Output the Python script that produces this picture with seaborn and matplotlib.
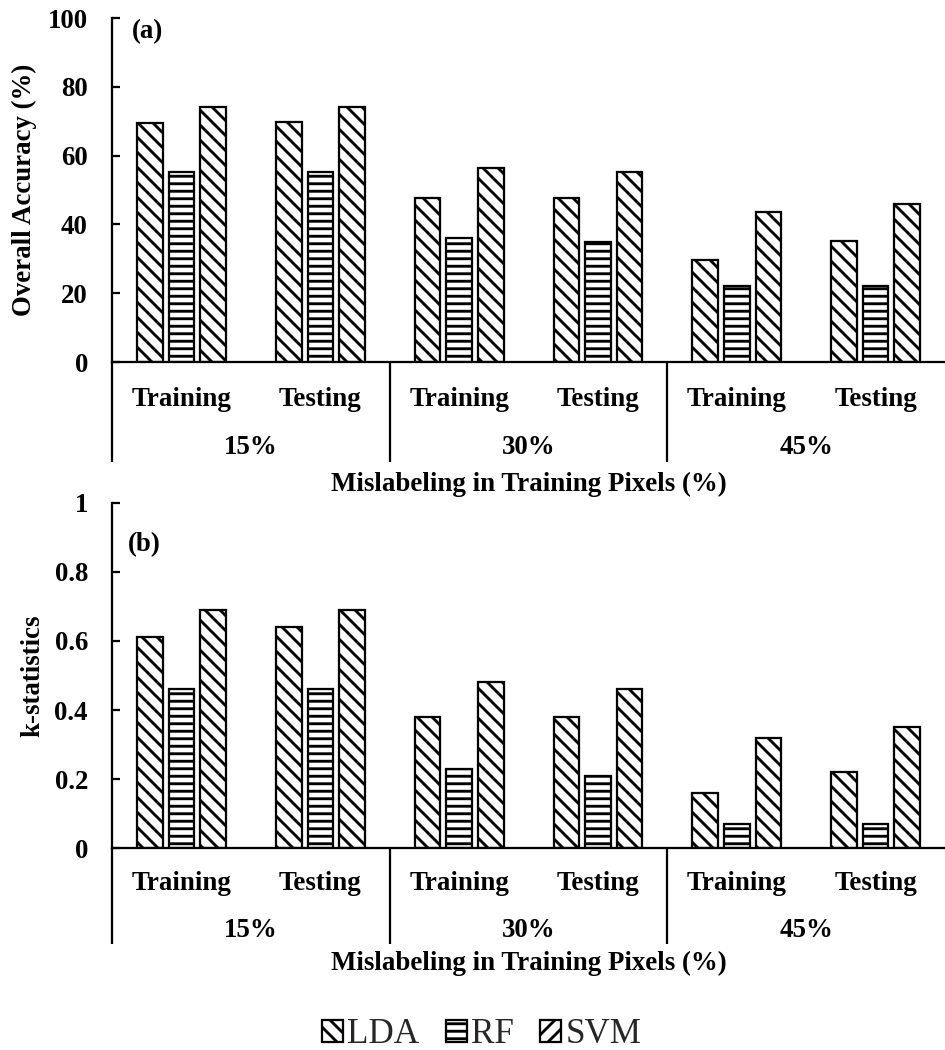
import pandas as pd
import seaborn as sns
import matplotlib.pyplot as plt
from matplotlib.patches import Patch
from matplotlib.lines import Line2D

sns.set_theme(style="white")
plt.rcParams["font.family"] = ["Liberation Serif", "DejaVu Serif"]
plt.rcParams["font.weight"] = "bold"
plt.rcParams["axes.labelweight"] = "bold"
plt.rcParams["hatch.linewidth"] = 2.3
plt.rcParams["hatch.color"] = "black"

# ---- data -------------------------------------------------------------
mislabel_levels = ["15%", "30%", "45%"]
phases = ["Training", "Testing"]
classifiers = ["LDA", "RF", "SVM"]

# order: 15% Training, 15% Testing, 30% Training, 30% Testing, 45% Training, 45% Testing
oa_lda = [69.4, 69.8, 47.8, 47.8, 29.7, 35.3]
oa_rf = [55.3, 55.3, 36.1, 34.8, 22.1, 22.1]
oa_svm = [74.0, 74.0, 56.3, 55.3, 43.6, 45.9]

kappa_lda = [0.61, 0.64, 0.38, 0.38, 0.16, 0.22]
kappa_rf = [0.46, 0.46, 0.23, 0.21, 0.07, 0.07]
kappa_svm = [0.69, 0.69, 0.48, 0.46, 0.32, 0.35]

oa_ticks = [0, 20, 40, 60, 80, 100]
kappa_ticks = [0, 0.2, 0.4, 0.6, 0.8, 1.0]
kappa_tick_labels = ["0", "0.2", "0.4", "0.6", "0.8", "1"]

slots = [f"{lvl} {ph}" for lvl in mislabel_levels for ph in phases]


def long_frame(lda, rf, svm):
    rows = []
    for name, vals in zip(classifiers, [lda, rf, svm]):
        for slot, v in zip(slots, vals):
            rows.append({"slot": slot, "classifier": name, "value": v})
    return pd.DataFrame(rows)


df_oa = long_frame(oa_lda, oa_rf, oa_svm)
df_kappa = long_frame(kappa_lda, kappa_rf, kappa_svm)

bar_hatches = {"LDA": "\\\\", "RF": "--", "SVM": "\\\\"}
legend_hatches = {"LDA": "\\\\", "RF": "--", "SVM": "//"}

# ---- figure -----------------------------------------------------------
W, H, DPI = 945, 1050, 90
fig = plt.figure(figsize=(W / DPI, H / DPI), dpi=DPI)
fig.patch.set_facecolor("white")

FS = 21.5
LW = 1.8


def px_to_axes_y(ax_h_px, px):
    return -px / ax_h_px


def draw_panel(rect, df, ticks, tick_labels, ylabel, ylabel_x, tag, tag_xy,
               cat_px, grp_px, sep_px, xlab_px):
    ax = fig.add_axes(rect)
    ax_h_px = rect[3] * H
    sns.barplot(data=df, x="slot", y="value", hue="classifier",
                order=slots, hue_order=classifiers,
                palette={c: "white" for c in classifiers},
                width=0.683, gap=0.19, edgecolor="black", linewidth=LW,
                saturation=1, legend=False, errorbar=None, ax=ax)
    for cont, name in zip(ax.containers, classifiers):
        for bar in cont:
            bar.set_hatch(bar_hatches[name])
            bar.set_edgecolor("black")
            bar.set_facecolor("white")

    ax.set_xlim(-0.5, len(slots) - 0.5)
    ax.set_ylim(ticks[0], ticks[-1])
    ax.set_yticks(ticks)
    ax.set_yticklabels(tick_labels)
    ax.tick_params(axis="y", direction="in", length=6.4, width=LW, pad=19.5,
                   labelsize=FS, left=True, colors="black")
    for lbl in ax.get_yticklabels():
        lbl.set_fontweight("bold")

    # first-level category labels (Training / Testing)
    ax.set_xticks(range(len(slots)))
    ax.set_xticklabels([])
    ax.tick_params(axis="x", length=0)
    trans = ax.get_xaxis_transform()
    for i, slot in enumerate(slots):
        ax.text(i, px_to_axes_y(ax_h_px, cat_px), slot.split(" ")[1],
                transform=trans, ha="center", va="center",
                fontsize=FS, fontweight="bold", color="black")
    # second-level group labels and separators
    for g, lvl in enumerate(mislabel_levels):
        ax.text(2 * g + 0.5, px_to_axes_y(ax_h_px, grp_px), lvl,
                transform=trans, ha="center", va="center",
                fontsize=FS, fontweight="bold", color="black")
    for xs in [-0.5, 1.5, 3.5]:
        ax.add_line(Line2D([xs, xs], [0, px_to_axes_y(ax_h_px, sep_px)],
                           transform=trans, color="black", lw=LW,
                           clip_on=False, solid_capstyle="butt"))

    for side in ["top", "right"]:
        ax.spines[side].set_visible(False)
    for side in ["left", "bottom"]:
        ax.spines[side].set_color("black")
        ax.spines[side].set_linewidth(LW)

    ax.set_xlabel("Mislabeling in Training Pixels (%)", fontsize=FS,
                  fontweight="bold", color="black", va="center")
    ax.xaxis.set_label_coords(0.5, px_to_axes_y(ax_h_px, xlab_px))
    ax.set_ylabel(ylabel, fontsize=FS, fontweight="bold", color="black",
                  va="center")
    ax.yaxis.set_label_coords(ylabel_x, 0.5)

    ax.text(tag_xy[0], tag_xy[1], tag, transform=ax.transAxes,
            ha="left", va="center", fontsize=FS, fontweight="bold",
            color="black")
    ax.set_facecolor("white")
    return ax


left = 112.3 / W
width = 1 - left
rect_a = [left, (H - 362) / H, width, 344 / H]
rect_b = [left, (H - 848.3) / H, width, (848.3 - 502.7) / H]

draw_panel(rect_a, df_oa, oa_ticks, [str(t) for t in oa_ticks],
           "Overall Accuracy (%)", -0.105, "(a)", (0.0237, 0.961),
           cat_px=37, grp_px=86, sep_px=100, xlab_px=122.5)
draw_panel(rect_b, df_kappa, kappa_ticks, kappa_tick_labels,
           "k-statistics", -0.096, "(b)", (0.019, 0.880),
           cat_px=35, grp_px=82, sep_px=96, xlab_px=115.5)

handles = [Patch(facecolor="white", edgecolor="black", linewidth=LW,
                 hatch=legend_hatches[c]) for c in classifiers]
fig.legend(handles, classifiers, loc="center", bbox_to_anchor=(0.5097, 0.0148),
           ncol=3, frameon=False, handlelength=0.6, handleheight=0.6,
           handletextpad=0.12, columnspacing=0.75, borderpad=0,
           prop={"family": "Liberation Serif", "weight": "normal", "size": 28})

fig.savefig("out.png", dpi=DPI, facecolor="white")
